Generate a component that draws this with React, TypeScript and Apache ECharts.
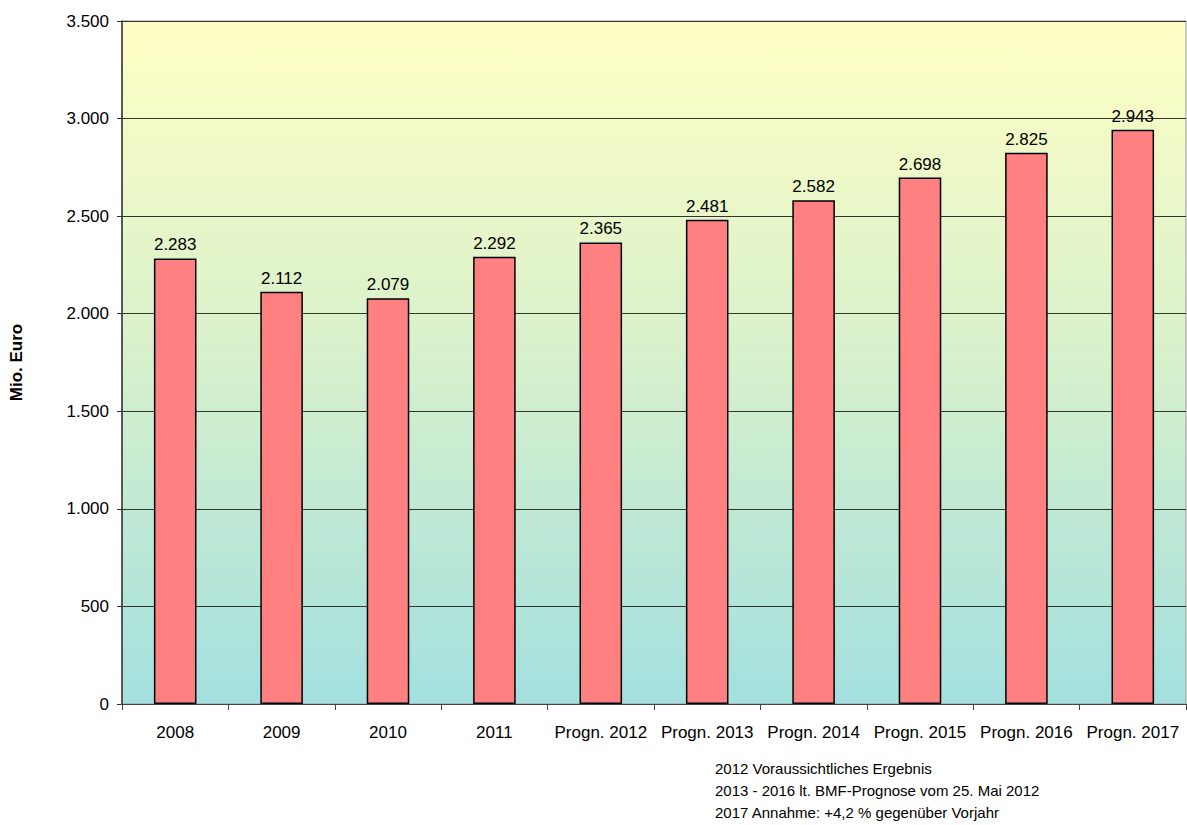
import React, { useEffect, useRef } from "react";
import * as echarts from "echarts";

const categories = ["2008", "2009", "2010", "2011", "Progn. 2012", "Progn. 2013", "Progn. 2014", "Progn. 2015", "Progn. 2016", "Progn. 2017"];
const values = [2283, 2112, 2079, 2292, 2365, 2481, 2582, 2698, 2825, 2943];
const yTicks = [0, 500, 1000, 1500, 2000, 2500, 3000, 3500];
const notes = [
  "2012 Voraussichtliches Ergebnis",
  "2013 - 2016 lt. BMF-Prognose vom 25. Mai 2012",
  "2017 Annahme: +4,2 % gegenüber Vorjahr",
];

const FONT = "'Liberation Sans', Arial, sans-serif";

const fmt = (v: number) => {
  const s = String(Math.round(v));
  return s.replace(/\B(?=(\d{3})+(?!\d))/g, ".");
};

export default function App() {
  const ref = useRef<HTMLDivElement>(null);
  useEffect(() => {
    if (!ref.current) return;
    const chart = echarts.init(ref.current, null, { renderer: "svg" });
    chart.setOption({
      animation: false,
      grid: { left: 122, right: 1, top: 21, bottom: 121, show: true, borderColor: "#999", borderWidth: 1,
        backgroundColor: new echarts.graphic.LinearGradient(0, 0, 0, 1, [
          { offset: 0, color: "#FFFFC4" },
          { offset: 0.5, color: "#D6F0CC" },
          { offset: 1, color: "#A3E0DF" },
        ]) },
      xAxis: {
        type: "category",
        data: categories,
        axisLine: { show: true, lineStyle: { color: "#444", width: 1 } },
        axisTick: { show: true, length: 6, lineStyle: { color: "#444" } },
        axisLabel: { color: "#000", fontFamily: FONT, fontSize: 17, margin: 20, interval: 0, hideOverlap: false },
      },
      yAxis: {
        type: "value",
        min: 0,
        max: yTicks[yTicks.length - 1],
        interval: yTicks[1] - yTicks[0],
        name: "Mio. Euro",
        nameLocation: "middle",
        nameGap: 97,
        nameTextStyle: { color: "#000", fontFamily: FONT, fontSize: 17, fontWeight: "bold" },
        axisLine: { show: true, lineStyle: { color: "#333", width: 1.5 } },
        axisTick: { show: true, length: 5, lineStyle: { color: "#333" } },
        axisLabel: { color: "#000", fontFamily: FONT, fontSize: 17, margin: 13, formatter: (v: number) => fmt(v) },
        splitLine: { show: true, lineStyle: { color: "#333", width: 1 } },
      },
      series: [
        {
          type: "bar",
          data: values,
          barWidth: "40%",
          itemStyle: { color: "#FF8080", borderColor: "#000", borderWidth: 1.5 },
          label: {
            show: true,
            position: "top",
            distance: 5,
            color: "#000",
            fontFamily: FONT,
            fontSize: 17,
            formatter: (p: any) => fmt(p.value),
          },
        },
      ],
      graphic: notes.map((t, i) => ({
        type: "text",
        left: 715,
        top: 761 + i * 22,
        style: { text: t, fill: "#000", font: `15px ${FONT}` },
      })),
    });
    return () => chart.dispose();
  }, []);
  return (
    <div
      ref={ref}
      style={{ position: "absolute", left: 0, top: 0, width: 1187, height: 825, background: "#fff" }}
    />
  );
}
